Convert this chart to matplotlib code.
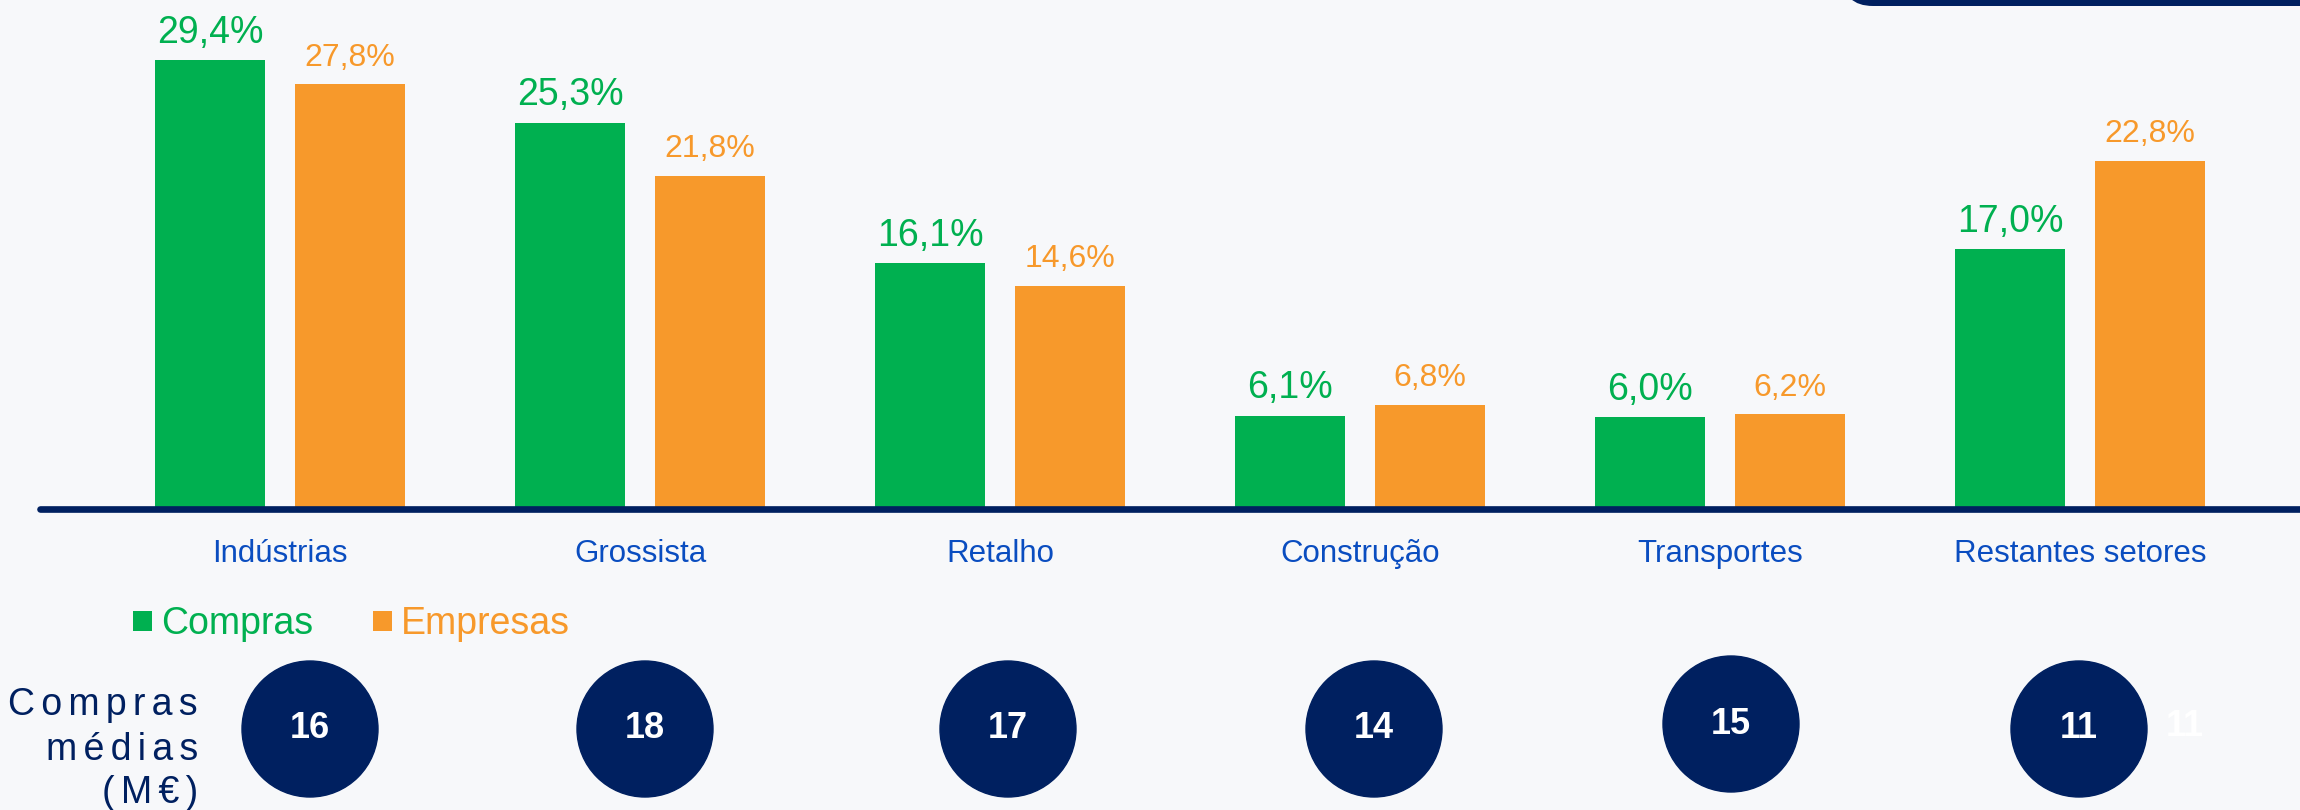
import matplotlib
matplotlib.use('Agg')
import matplotlib.pyplot as plt
from matplotlib.patches import Ellipse, FancyBboxPatch
from matplotlib.transforms import IdentityTransform

plt.rcParams['font.family'] = ['Liberation Sans', 'DejaVu Sans']

setores = ['Indústrias', 'Grossista', 'Retalho', 'Construção', 'Transportes', 'Restantes setores']
compras = [29.4, 25.3, 16.1, 6.1, 6.0, 17.0]
empresas = [27.8, 21.8, 14.6, 6.8, 6.2, 22.8]
compras_medias = [16, 18, 17, 14, 15, 11]

verde = '#00B050'
laranja = '#F7992B'
azul = '#002060'
azul_txt = '#0A4DC0'
fundo = '#F7F8FA'

W, H = 2300, 810
fig = plt.figure(figsize=(W / 100, H / 100), dpi=100, facecolor=fundo)

# axes: bars sit on y=509 px, 360 px per group, first group centre at 280 px
base_px = 509
px_per_pct = 15.27
ax = fig.add_axes([0, (H - base_px) / H, 1, base_px / H])
ax.set_facecolor(fundo)
ax.set_xlim(-280 / 360, (W - 280) / 360)
ax.set_ylim(0, base_px / px_per_pct)
ax.axis('off')

x = list(range(len(setores)))
w = 110 / 360
off = 70 / 360
b1 = ax.bar([i - off for i in x], compras, width=w, color=verde, label='Compras', zorder=2)
b2 = ax.bar([i + off for i in x], empresas, width=w, color=laranja, label='Empresas', zorder=2)

def fmt(v):
    return f'{v:.1f}'.replace('.', ',') + '%'

for i in x:
    ax.annotate(fmt(compras[i]), (i - off, compras[i]), xytext=(0, 12.5), textcoords='offset points',
                ha='center', va='baseline', fontsize=27, color=verde)
    ax.annotate(fmt(empresas[i]), (i + off, empresas[i]), xytext=(0, 13.5), textcoords='offset points',
                ha='center', va='baseline', fontsize=23, color=laranja)
    ax.text(i, -53 / px_per_pct, setores[i], ha='center', va='baseline', fontsize=22.5,
            color=azul_txt, clip_on=False)

# base line
ax.plot([-240 / 360, (W - 280) / 360 + 0.1], [0, 0], color=azul, lw=4.8,
        solid_capstyle='round', clip_on=False, zorder=3)

# circles with average purchases
circ_dx = [30, 5, 8, 14, 11, -1]
circ_y = [729, 729, 729, 729, 724, 729]
r = 68
for i in x:
    cx = i + circ_dx[i] / 360
    cy = (base_px - circ_y[i]) / px_per_pct
    ax.add_patch(Ellipse((cx, cy), 2 * r / 360, 2 * r / px_per_pct, color=azul,
                         clip_on=False, zorder=2))
    ax.text(cx, cy, str(compras_medias[i]), ha='center', va='center', fontsize=26,
            fontweight='bold', color='white', clip_on=False, zorder=3)

# faint duplicate of the last value
ax.text(5 + 105 / 360, (base_px - 727) / px_per_pct, str(compras_medias[-1]), ha='center',
        va='center', fontsize=26, fontweight='bold', color='white', clip_on=False)

# legend
leg = fig.legend(handles=[b1, b2], loc='center left', bbox_to_anchor=(133 / W, 1 - 624 / H),
                 ncols=2, frameon=False, fontsize=27, handlelength=0.5, handleheight=0.45,
                 handletextpad=0.25, columnspacing=1.6, borderpad=0, borderaxespad=0,
                 labelcolor=[verde, laranja])

# side label, letter spaced
ts = '\u2006'
for txt, yb in [('Compras', 715), ('médias', 760), ('(M€)', 803)]:
    fig.text(198 / W, 1 - yb / H, ts.join(txt), ha='right', va='baseline', fontsize=27,
             color=azul)

# top-right dark tab
tab = FancyBboxPatch((1843, H - 6), 700, 100, boxstyle='round,pad=0,rounding_size=30',
                     facecolor=azul, edgecolor='none', transform=IdentityTransform())
fig.add_artist(tab)

fig.savefig('out.png', dpi=100, facecolor=fundo)
